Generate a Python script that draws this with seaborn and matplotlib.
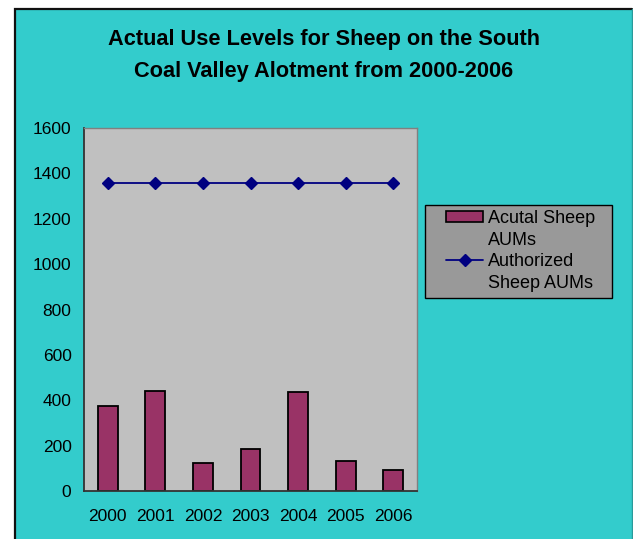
import matplotlib
matplotlib.use("Agg")
import matplotlib.pyplot as plt
from matplotlib.patches import Rectangle, Patch
from matplotlib.lines import Line2D
from matplotlib.ticker import FixedLocator, NullFormatter
import seaborn as sns
import pandas as pd

years = ["2000", "2001", "2002", "2003", "2004", "2005", "2006"]
actual_aums = [375, 442, 122, 184, 435, 134, 93]
authorized_aums = [1358, 1358, 1358, 1358, 1358, 1358, 1358]
y_ticks = [0, 200, 400, 600, 800, 1000, 1200, 1400, 1600]

sns.set_style("white")
plt.rcParams["font.family"] = ["Liberation Sans", "DejaVu Sans"]
plt.rcParams["text.color"] = "black"

W, H = 633, 539
fig = plt.figure(figsize=(W / 100, H / 100), dpi=100, facecolor="white")

# turquoise chart area with a dark frame, drawn on a background axes
bg = fig.add_axes([0, 0, 1, 1], zorder=-5)
bg.set_xlim(0, W)
bg.set_ylim(H, 0)
bg.axis("off")
bg.add_patch(Rectangle((15, 9), 617, 560, facecolor="#33CCCC", edgecolor="none"))
bg.plot([15, 15, 632], [H + 5, 9, 9], color="#111111", linewidth=1.6,
        solid_joinstyle="miter")
bg.plot([632, 632], [9, H + 5], color="#2A9A9A", linewidth=1.0)
# legend box
bg.add_patch(Rectangle((425, 205), 187, 93, facecolor="#999999",
                       edgecolor="black", linewidth=1.0))

ax = fig.add_axes([84 / W, (H - 491) / H, (417 - 84) / W, (491 - 128) / H], zorder=1)
ax.set_facecolor("#C0C0C0")

df = pd.DataFrame({"year": years, "actual": actual_aums, "authorized": authorized_aums})

sns.barplot(data=df, x="year", y="actual", color="#993366", saturation=1,
            width=0.42, edgecolor="black", linewidth=1.3, ax=ax, zorder=2)
sns.pointplot(data=df, x="year", y="authorized", color="#000080", marker="D",
              markersize=6, linewidth=1.3, ax=ax, zorder=3)

ax.set_xlim(-0.5, 6.5)
ax.set_ylim(0, 1600)
ax.set_yticks(y_ticks)
ax.set_xlabel("")
ax.set_ylabel("")

# category boundary ticks on the x axis, labels centred under bars
ax.xaxis.set_minor_locator(FixedLocator([i - 0.5 for i in range(len(years) + 1)]))
ax.xaxis.set_minor_formatter(NullFormatter())
ax.tick_params(axis="x", which="major", length=0, labelsize=12.5, pad=13,
               labelcolor="black")
ax.tick_params(axis="x", which="minor", length=6, width=1, direction="out", color="black")
ax.tick_params(axis="y", length=6, width=1, direction="out", labelsize=12.5, pad=3,
               color="black", labelcolor="black")

for side in ["left", "bottom"]:
    ax.spines[side].set_color("#333333")
    ax.spines[side].set_linewidth(1.3)
for side in ["top", "right"]:
    ax.spines[side].set_visible(True)
    ax.spines[side].set_color("#808080")
    ax.spines[side].set_linewidth(1.0)

fig.text(324 / W, 1 - 40 / H, "Actual Use Levels for Sheep on the South",
         ha="center", va="center", fontsize=15.7, fontweight="bold")
fig.text(324 / W, 1 - 71 / H, "Coal Valley Alotment from 2000-2006",
         ha="center", va="center", fontsize=15.7, fontweight="bold")

# legend: handles sit beside the first line of each two-line label
blank = Patch(facecolor="none", edgecolor="none")
handles = [
    Patch(facecolor="#993366", edgecolor="black", linewidth=1.2),
    blank,
    Line2D([0], [0], color="#000080", marker="D", markersize=6, linewidth=1.3),
    blank,
]
labels = ["Acutal Sheep", "AUMs", "Authorized", "Sheep AUMs"]
leg = fig.legend(handles, labels, loc="upper left",
                 bbox_to_anchor=(446 / W, 1 - 210 / H),
                 bbox_transform=fig.transFigure, fontsize=13, frameon=False,
                 handlelength=2.05, handleheight=0.55, handletextpad=0.28,
                 borderpad=0.0, labelspacing=0.25, borderaxespad=0)

fig.savefig("out.png", dpi=100, facecolor=fig.get_facecolor())
